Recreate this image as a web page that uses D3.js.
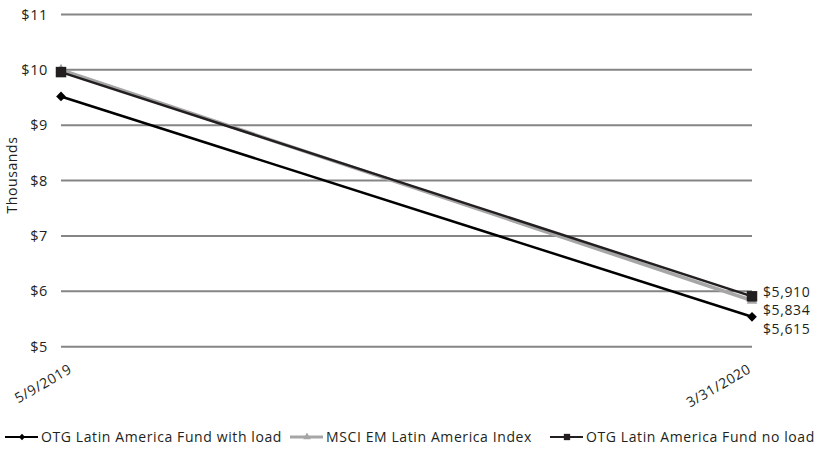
<!DOCTYPE html>
<html><head><meta charset="utf-8">
<script src="https://cdn.jsdelivr.net/npm/d3@7"></script>
<style>body{margin:0;background:#fff}text{font-family:"Open Sans",sans-serif;fill:#231f20;letter-spacing:0.6px}</style>
</head><body><svg id="c" width="821" height="450"></svg>
<script>
const dates = ["5/9/2019", "3/31/2020"];
const withLoad = [9520, 5540];
const msci = [10000, 5834];
const noLoad = [9960, 5910];
const yTicks = [5, 6, 7, 8, 9, 10, 11];
const endLabels = ["$5,910", "$5,834", "$5,615"];
const seriesNames = ["OTG Latin America Fund with load", "MSCI EM Latin America Index", "OTG Latin America Fund no load"];

const svg = d3.select("#c");
const x = d3.scalePoint().domain(dates).range([61, 752]);
const y = d3.scaleLinear().domain([5, 11]).range([346.7, 14.5]);

// gridlines
svg.append("g").selectAll("line").data(yTicks).join("line")
  .attr("x1", 61).attr("x2", 752).attr("y1", d => y(d)).attr("y2", d => y(d))
  .attr("stroke", "#858585").attr("stroke-width", 2);
svg.append("g").selectAll("text").data(yTicks).join("text")
  .attr("x", 48).attr("y", d => y(d)).attr("dy", "0.35em").attr("text-anchor", "end")
  .attr("font-size", 14.5).text(d => "$" + d);

svg.append("text").attr("transform", "translate(17,175) rotate(-90)")
  .attr("text-anchor", "middle").attr("font-size", 14).text("Thousands");

// x labels
const labelDx = [12, 0];
svg.append("g").selectAll("text").data(dates).join("text")
  .attr("transform", (d, i) => "translate(" + (x(d) + labelDx[i]) + ",372) rotate(-30)")
  .attr("text-anchor", "end").attr("font-size", 14).text(d => d);

const series = [
  {name: seriesNames[0], vals: withLoad, color: "#000", w: 2.5, marker: "diamond"},
  {name: seriesNames[1], vals: msci, color: "#a6a6a6", w: 3.5, marker: "triangle"},
  {name: seriesNames[2], vals: noLoad, color: "#231f20", w: 2.5, marker: "square"}
];
const line = d3.line().x((d, i) => x(dates[i])).y(d => y(d / 1000));
const sym = {diamond: d3.symbol().type(d3.symbolDiamond2).size(60),
             triangle: d3.symbol().type(d3.symbolTriangle).size(50),
             square: d3.symbol().type(d3.symbolSquare).size(110)};
series.forEach(s => {
  svg.append("path").attr("d", line(s.vals)).attr("fill", "none")
    .attr("stroke", s.color).attr("stroke-width", s.w);
});
series.forEach(s => {
  svg.append("g").selectAll("path").data(s.vals).join("path")
    .attr("transform", (d, i) => "translate(" + x(dates[i]) + "," + y(d / 1000) + ")")
    .attr("d", sym[s.marker]).attr("fill", s.color);
});

// end labels
svg.append("g").selectAll("text").data(endLabels).join("text")
  .attr("x", 763).attr("y", (d, i) => 292 + i * 18.5).attr("dy", "0.35em")
  .attr("font-size", 14).text(d => d);

// legend
const lx = [5, 290, 550];
series.forEach((s, i) => {
  const g = svg.append("g").attr("transform", "translate(" + lx[i] + ",437)");
  g.append("line").attr("x1", 0).attr("x2", 33).attr("stroke", s.color).attr("stroke-width", s.marker === "triangle" ? 3 : 1.8);
  g.append("path").attr("transform", "translate(17,0)")
    .attr("d", d3.symbol().type(s.marker === "diamond" ? d3.symbolDiamond2 : s.marker === "square" ? d3.symbolSquare : d3.symbolTriangle).size(s.marker === "square" ? 40 : 25))
    .attr("fill", s.color);
  g.append("text").attr("x", 36).attr("dy", "0.35em").attr("font-size", 14).text(s.name);
});
</script></body></html>
